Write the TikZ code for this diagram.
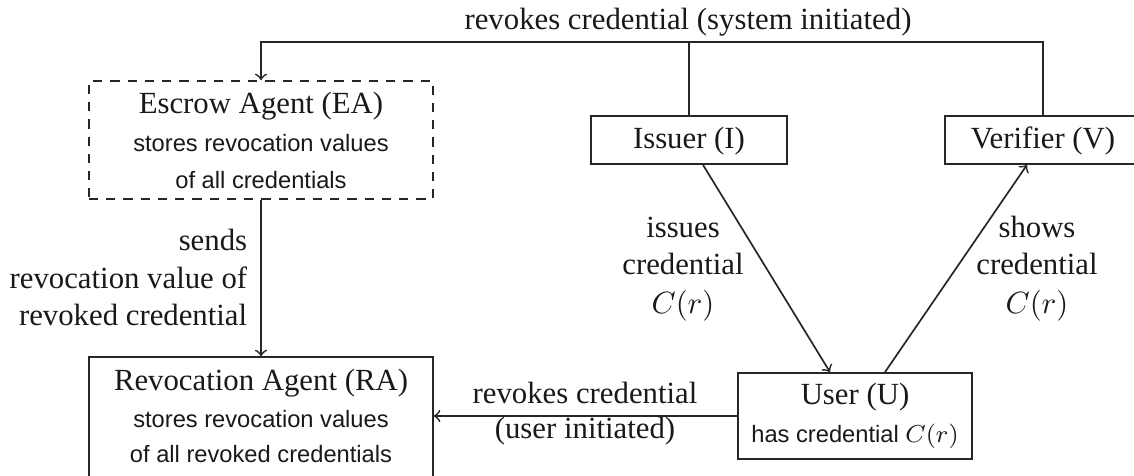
\documentclass[tikz,border=0pt]{standalone}
\usepackage{fontspec}
\setmainfont{Liberation Serif}
\setsansfont{Liberation Sans}
\usetikzlibrary{calc}
\begin{document}
\begin{tikzpicture}[x=0.325pt,y=-0.325pt,
  line width=0.55pt, draw=black!85, text=black!90,
  box/.style={draw=black!85,line width=0.55pt,inner sep=0pt,minimum width=#1},
  dbox/.style={box=#1,dash pattern=on 3pt off 2.6pt},
  lbl/.style={anchor=base,inner sep=0pt,font=\fontsize{10}{12}\selectfont},
  lblr/.style={anchor=base east,inner sep=0pt,font=\fontsize{10}{12}\selectfont},
  sub/.style={anchor=base,inner sep=0pt,font=\sffamily\fontsize{7.7}{9}\selectfont},
  conn/.style={->}]
\useasboundingbox (0,0) rectangle (1134,475);
% boxes
\node[dbox=111.8pt,minimum height=38.35pt] (EA) at (261,140) {};
\node[box=111.8pt,minimum height=40.6pt] (RA) at (261,419.5) {};
\node[box=63.7pt,minimum height=15.6pt] (I) at (689,140) {};
\node[box=63.7pt,minimum height=15.6pt] (V) at (1043,140) {};
\node[box=76pt,minimum height=28pt] (U) at (855,416) {};
% box texts
\node[lbl] (EAt) at (261,113) {Escrow Agent (EA)};
\node[sub] (EAs1) at (261,151) {stores revocation values};
\node[sub] (EAs2) at (261,188) {of all credentials};
\node[lbl] (RAt) at (261,390) {Revocation Agent (RA)};
\node[sub] (RAs1) at (261,427) {stores revocation values};
\node[sub] (RAs2) at (261,462) {of all revoked credentials};
\node[lbl] (It) at (689,148) {Issuer (I)};
\node[lbl] (Vt) at (1043,148) {Verifier (V)};
\node[lbl] (Ut) at (855,404) {User (U)};
\node[sub] (Us) at (855,442) {has credential $C(r)$};
% connectors
\coordinate (topL) at (261,42);
\draw[conn] (V.north) |- (topL) -- (EA.north);
\draw (I.north) -- (I.north |- topL);
\draw[conn] (EA.south) -- (RA.north);
\draw[conn] ($(I.south)+(14,0)$) -- ($(U.north)+(-25,0)$);
\draw[conn] ($(U.north)+(30,0)$) -- ($(V.south)+(-16,0)$);
\draw[conn] (U.west) -- (U.west -| RA.east);
% connector labels
\node[lbl] (top) at (688,29) {revokes credential (system initiated)};
\node[lblr] (s1) at (248,250) {sends};
\node[lblr] (s2) at (248,288) {revocation value of};
\node[lblr] (s3) at (248,325) {revoked credential};
\node[lbl] (i1) at (683,237) {issues};
\node[lbl] (i2) at (683,274) {credential};
\node[lbl] (i3) at (683,313) {$C(r)$};
\node[lbl] (v1) at (1037,237) {shows};
\node[lbl] (v2) at (1037,274) {credential};
\node[lbl] (v3) at (1037,313) {$C(r)$};
\node[lbl] (r1) at (585,403) {revokes credential};
\node[lbl] (r2) at (585,438) {(user initiated)};
\end{tikzpicture}
\end{document}
